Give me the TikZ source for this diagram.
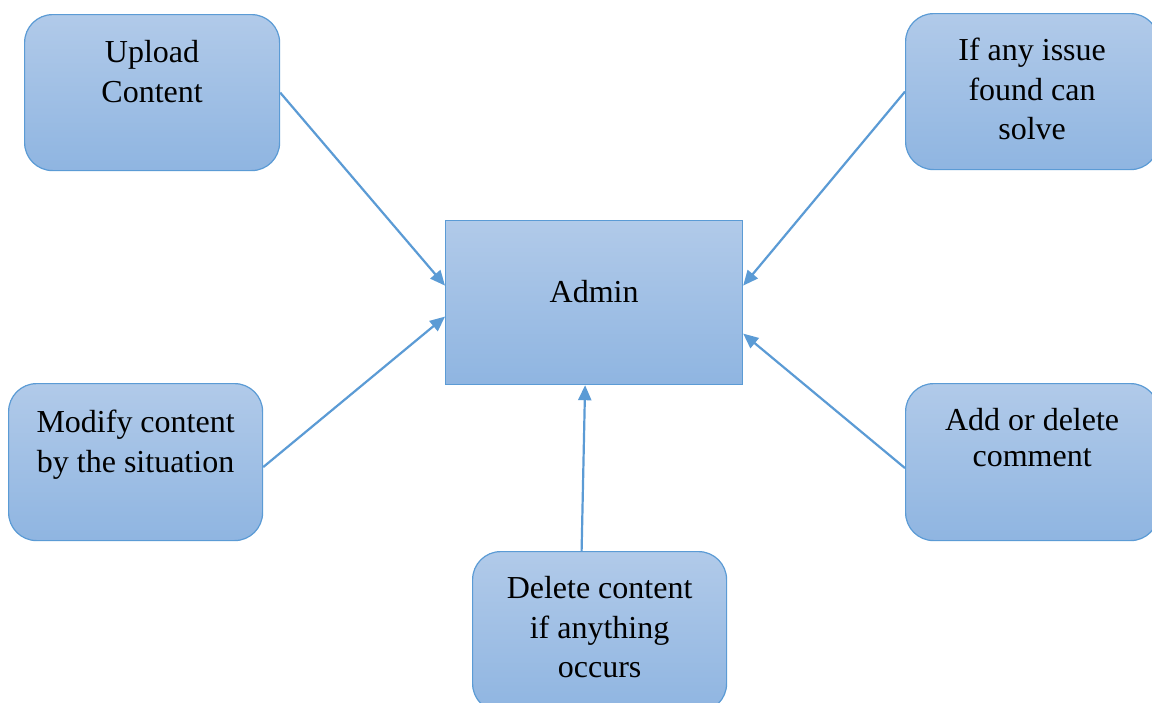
\documentclass[tikz,border=0pt]{standalone}
\usepackage{fontspec}
\setmainfont{Liberation Serif}
\usetikzlibrary{arrows.meta}
\definecolor{edge}{HTML}{5B9BD5}
\definecolor{topc}{HTML}{B1CAE9}
\definecolor{botc}{HTML}{8FB5E1}
\tikzset{
  box/.style={draw=edge, line width=1.2pt, top color=topc, bottom color=botc,
    rounded corners=28pt, inner sep=0pt, anchor=north west},
  sqbox/.style={box, rounded corners=0pt},
  conn/.style={draw=edge, line width=2.2pt, -{Triangle[length=15pt,width=13pt]}}
}
\newcommand{\boxtext}[4]{\parbox[t][#2][t]{#1}{\centering\fontsize{32}{39.5}\selectfont\rule{0pt}{#3}#4}}
\begin{document}
\begin{tikzpicture}[x=1pt,y=-1pt]
\clip (0,0) rectangle (1152,702);
\fill[white] (0,0) rectangle (1152,702);
\node[box] (up) at (24,14) {\boxtext{255pt}{156pt}{48pt}{Upload\\Content}};
\node[box] (issue) at (905,13) {\boxtext{253pt}{156pt}{47pt}{If any issue\\found can\\solve}};
\node[sqbox] (admin) at (445,220) {\boxtext{297pt}{164pt}{82pt}{Admin}};
\node[box] (mod) at (8,383) {\boxtext{254pt}{157pt}{49pt}{Modify content\\by the situation}};
\node[box] (add) at (905,383) {\boxtext{253pt}{157pt}{47pt}{Add or delete\\[-3.5pt]comment}};
\node[box] (del) at (472,551) {\boxtext{254pt}{160pt}{47pt}{Delete content\\if anything\\occurs}};
\draw[conn] (up.east) -- ([yshift=17pt]admin.west);
\draw[conn] (issue.west) -- ([yshift=17pt]admin.east);
\draw[conn] ([yshift=-5pt]mod.east) -- ([yshift=-14pt]admin.west);
\draw[conn] ([yshift=-6pt]add.west) -- ([yshift=-31pt]admin.east);
\draw[conn] ([xshift=-18pt]del.north) -- ([xshift=-9pt]admin.south);
\end{tikzpicture}
\end{document}
